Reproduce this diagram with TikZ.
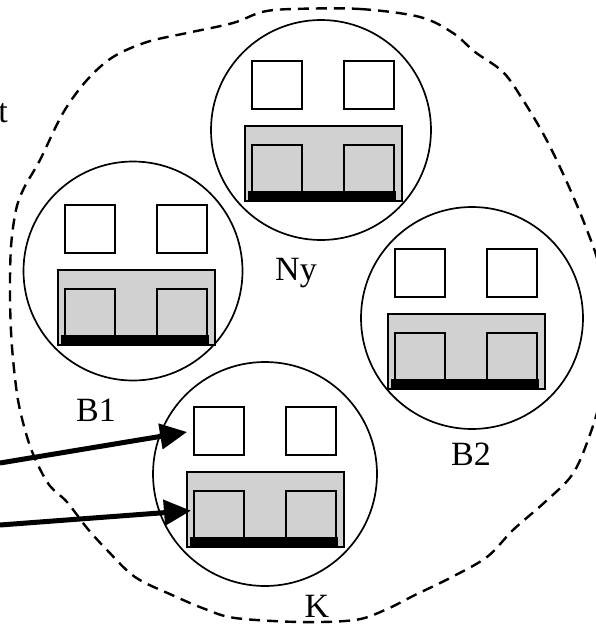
\documentclass[tikz,border=0pt]{standalone}
\usepackage{fontspec}
\setmainfont{Liberation Serif}
\usetikzlibrary{arrows.meta}
\tikzset{
  ring/.style={draw, circle, line width=1.7pt, inner sep=0pt},
  grayblock/.style={draw, line width=1.8pt, fill=black!18, inner sep=0pt, anchor=north west},
  win/.style={draw, line width=2pt, fill=white, inner sep=0pt, anchor=north west, minimum width=50pt, minimum height=48pt},
  door/.style={draw, line width=2pt, inner sep=0pt, anchor=north west, minimum width=50pt, minimum height=51pt},
  bar/.style={fill=black, inner sep=0pt, anchor=north west, minimum width=148pt, minimum height=10pt},
  lbl/.style={font=\fontsize{34}{34}\selectfont, inner sep=0pt, anchor=base},
  border/.style={line width=2.4pt, dash pattern=on 11pt off 7pt},
  bigarrow/.style={line width=5pt, -{Triangle[length=27pt,width=25pt]}},
  unit/.pic={
    \node[grayblock, minimum width=157pt, minimum height=75pt] (-base) at (0,0) {};
    \node[door] (-doorL) at (7,19) {};
    \node[door] (-doorR) at (99,19) {};
    \node[bar] (-bar) at (4,66) {};
    \node[win] (-sqL) at (7,-65) {};
    \node[win] (-sqR) at (99,-65) {};
  }
}
\begin{document}
\begin{tikzpicture}[x=1pt,y=-1pt]
\useasboundingbox (0,0) rectangle (596,624);
\clip (0,0) rectangle (596,624);
\fill[white] (0,0) rectangle (596,624);
% dashed boundary
\draw[border] plot[smooth cycle, tension=0.55] coordinates {
 (293,9) (360,9) (420,17) (453,33) (475,52) (503,72) (523,100) (545,137)
 (565,178) (585,225) (600,270) (606,330) (601,395) (588,440) (572,475)
 (545,502) (513,530) (487,557) (450,578) (415,595) (385,610) (355,620)
 (300,622) (235,618) (205,609) (172,595) (135,577) (107,550) (87,528)
 (67,502) (50,486) (38,465) (28,440) (18,400) (12,347) (10,297) (11,247)
 (16,210) (24,188) (40,160) (63,113) (87,80) (113,57) (147,42) (187,33)
 (233,23) (262,12)};
% circles
\node[ring, minimum size=220pt] (NyC) at (321,130) {};
\node[ring, minimum size=219pt] (B1C) at (133,271) {};
\node[ring, minimum size=222pt] (B2C) at (472,318) {};
\node[ring, minimum size=224pt] (KC) at (265,474) {};
% units
\pic (Ny) at (244,125) {unit};
\pic (B1) at (57,269) {unit};
\pic (B2) at (387,313) {unit};
\pic (K) at (186,471) {unit};
% labels
\node[lbl] (NyL) at (296,280) {Ny};
\node[lbl] (B1L) at (96,421) {B1};
\node[lbl] (B2L) at (471,465) {B2};
\node[lbl] (KL) at (317,617) {K};
\node[lbl, anchor=base east] (tL) at (8,122) {t};
% arrows
\coordinate (a1) at (0,463);
\coordinate (a2) at (0,525);
\draw[bigarrow, shorten >=6pt] (a1) -- (K-sqL.west);
\draw[bigarrow, shorten >=2pt] (a2) -- (K-doorL.167);
\end{tikzpicture}
\end{document}
